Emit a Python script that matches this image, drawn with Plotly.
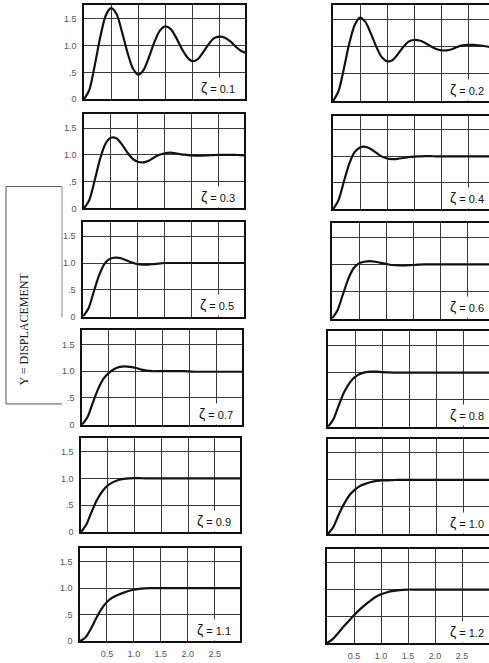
import plotly.graph_objects as go

W, H = 489, 663

# ---------------- data ----------------
T = [0.0, 0.1, 0.2, 0.3, 0.4, 0.5, 0.6, 0.7, 0.8, 0.9, 1.0, 1.1, 1.2, 1.3, 1.4, 1.5,
     1.6, 1.7, 1.8, 1.9, 2.0, 2.1, 2.2, 2.3, 2.4, 2.5, 2.6, 2.7, 2.8, 2.9, 3.0]

ZETA_LABELS = ["0.1", "0.2", "0.3", "0.4", "0.5", "0.6", "0.7", "0.8", "0.9", "1.0", "1.1", "1.2"]

z01 = [0, 0.18, 0.64, 1.16, 1.56, 1.70, 1.59, 1.26, 0.88, 0.58, 0.46, 0.55, 0.79, 1.07, 1.28, 1.36,
       1.31, 1.15, 0.95, 0.79, 0.71, 0.75, 0.88, 1.03, 1.14, 1.17, 1.15, 1.08, 0.98, 0.90, 0.86]
z02 = [0, 0.18, 0.59, 1.05, 1.39, 1.53, 1.45, 1.24, 1.00, 0.81, 0.73, 0.75, 0.86, 0.99, 1.09, 1.12,
       1.11, 1.07, 1.01, 0.96, 0.93, 0.93, 0.95, 0.99, 1.02, 1.03, 1.03, 1.02, 1.01, 0.99, 0.98]
z03 = [0, 0.16, 0.53, 0.93, 1.21, 1.32, 1.31, 1.20, 1.05, 0.93, 0.87, 0.86, 0.89, 0.95, 1.00, 1.03,
       1.04, 1.03, 1.01, 1.00, 0.99, 0.985, 0.985, 0.99, 0.995, 1.0, 1.0, 1.0, 1.0, 0.995, 0.99]
z04 = [0, 0.17, 0.52, 0.86, 1.08, 1.17, 1.18, 1.14, 1.07, 1.00, 0.96, 0.95, 0.955, 0.97, 0.985, 0.995,
       1.0, 1.005, 1.005, 1.0, 1.0, 1.0, 1.0, 1.0, 1.0, 1.0, 1.0, 1.0, 1.0, 1.0, 1.0]
z05 = [0, 0.15, 0.47, 0.78, 0.99, 1.08, 1.10, 1.09, 1.05, 1.01, 0.98, 0.97, 0.97, 0.98, 0.99, 1.0,
       1.0, 1.0, 1.0, 1.0, 1.0, 1.0, 1.0, 1.0, 1.0, 1.0, 1.0, 1.0, 1.0, 1.0, 1.0]
z06 = [0, 0.15, 0.44, 0.73, 0.93, 1.02, 1.05, 1.06, 1.05, 1.03, 1.01, 0.99, 0.985, 0.98, 0.985, 0.99,
       0.995, 1.0, 1.0, 1.0, 1.0, 1.0, 1.0, 1.0, 1.0, 1.0, 1.0, 1.0, 1.0, 1.0, 1.0]
z07 = [0, 0.14, 0.41, 0.67, 0.86, 0.97, 1.04, 1.08, 1.09, 1.08, 1.06, 1.03, 1.01, 1.0, 1.0, 1.0,
       1.0, 1.0, 1.0, 1.0, 0.995, 0.99, 0.99, 0.99, 0.99, 0.99, 0.99, 0.99, 0.99, 0.99, 0.99]
z08 = [0, 0.14, 0.40, 0.64, 0.81, 0.92, 0.98, 1.01, 1.02, 1.02, 1.01, 1.005, 1.0, 1.0, 1.0, 1.0,
       1.0, 1.0, 1.0, 1.0, 1.0, 1.0, 1.0, 1.0, 1.0, 1.0, 1.0, 1.0, 1.0, 1.0, 1.0]
z09 = [0, 0.14, 0.38, 0.60, 0.76, 0.87, 0.93, 0.97, 0.99, 1.0, 1.005, 1.005, 1.0, 1.0, 1.0, 1.0,
       1.0, 1.0, 1.0, 1.0, 1.0, 1.0, 1.0, 1.0, 1.0, 1.0, 1.0, 1.0, 1.0, 1.0, 1.0]
z10 = [0, 0.13, 0.36, 0.56, 0.72, 0.82, 0.89, 0.93, 0.96, 0.98, 0.99, 0.99, 0.995, 1.0, 1.0, 1.0,
       1.0, 1.0, 1.0, 1.0, 1.0, 1.0, 1.0, 1.0, 1.0, 1.0, 1.0, 1.0, 1.0, 1.0, 1.0]
z11 = [0, 0.07, 0.23, 0.43, 0.61, 0.74, 0.82, 0.87, 0.91, 0.945, 0.97, 0.985, 0.995, 1.0, 1.0, 1.0,
       1.0, 1.0, 1.0, 1.0, 1.0, 1.0, 1.0, 1.0, 1.0, 1.0, 1.0, 1.0, 1.0, 1.0, 1.0]
z12 = [0, 0.07, 0.18, 0.30, 0.41, 0.52, 0.62, 0.71, 0.79, 0.86, 0.91, 0.945, 0.97, 0.985, 0.995, 1.0,
       1.0, 1.0, 1.0, 1.0, 1.0, 1.0, 1.0, 1.0, 1.0, 1.0, 1.0, 1.0, 1.0, 1.0, 1.0]

SERIES = [z01, z02, z03, z04, z05, z06, z07, z08, z09, z10, z11, z12]

X_TICKS = [0.5, 1.0, 1.5, 2.0, 2.5]
X_TICK_TEXT = ["0.5", "1.0", "1.5", "2.0", "2.5"]
Y_TICKS = [0, 0.5, 1.0, 1.5]
Y_TICK_TEXT = ["0", ".5", "1.0", "1.5"]

# ---------------- layout geometry (pixels) ----------------
LEFT_BOXES = [(84, 245, 5, 100), (84, 244, 115, 210), (83, 244, 224, 319),
              (82, 242, 333, 428), (81, 240, 441, 536), (80, 240, 552, 646)]
RIGHT_BOXES = [(333, 5, 102), (333, 117, 211), (332, 225, 321),
               (328, 334, 430), (328, 442, 538), (327, 553, 648)]
X_MAX = 2.97
Y_MAX = 1.76
PPU_RIGHT = 54.0

GRID = "#3a3a3a"
FRAME = "#111111"
TICKFONT = dict(family="Liberation Sans, Arial, sans-serif", size=9, color="#555555")

fig = go.Figure()
layout = {}
annotations = []

for i, ys in enumerate(SERIES):
    r, c = i // 2, i % 2
    n = i + 1
    xa = "x" if n == 1 else f"x{n}"
    ya = "y" if n == 1 else f"y{n}"
    if c == 0:
        x0, x1, top, bot = LEFT_BOXES[r]
        xr = [0, X_MAX]
        xdom = [x0 / W, x1 / W]
    else:
        x0, top, bot = RIGHT_BOXES[r]
        xr = [0, (W - x0) / PPU_RIGHT]
        xdom = [x0 / W, 1.0]
    ydom = [1 - bot / H, 1 - top / H]

    fig.add_trace(go.Scatter(
        x=T, y=ys, xaxis=xa, yaxis=ya, mode="lines",
        line=dict(color="#111111", width=2.2, shape="spline", smoothing=0.8),
        hoverinfo="skip", showlegend=False))

    layout["xaxis" if n == 1 else f"xaxis{n}"] = dict(
        domain=xdom, range=xr, anchor=ya,
        tickvals=X_TICKS, ticktext=X_TICK_TEXT, showticklabels=(r == 5),
        ticks="", ticklen=0, ticklabelstandoff=3, tickfont=TICKFONT,
        showgrid=True, gridcolor=GRID, gridwidth=1, zeroline=False,
        showline=True, linecolor=FRAME, linewidth=1.5, mirror=True,
        fixedrange=True)
    layout["yaxis" if n == 1 else f"yaxis{n}"] = dict(
        domain=ydom, range=[0, Y_MAX], anchor=xa,
        tickvals=Y_TICKS, ticktext=Y_TICK_TEXT, showticklabels=(c == 0),
        ticks="", ticklen=0, ticklabelstandoff=4, tickfont=TICKFONT,
        showgrid=True, gridcolor=GRID, gridwidth=1, zeroline=False,
        showline=True, linecolor=FRAME, linewidth=1.5, mirror=(c == 0),
        fixedrange=True)

    annotations.append(dict(
        xref=xa, yref=ya, x=(xr[1] - 0.12) if c == 0 else (xr[1] - 0.04), y=0.21,
        xanchor="right", yanchor="middle", showarrow=False,
        text=f"<span style='font-size:14px'>ζ</span> = {ZETA_LABELS[i]}",
        font=dict(family="Liberation Sans, Arial, sans-serif", size=11, color="#111111"),
        bgcolor="white", borderpad=2))

# y-axis title box
annotations.append(dict(
    xref="paper", yref="paper", x=24 / W, y=1 - 332 / H,
    xanchor="center", yanchor="middle", showarrow=False, textangle=-90,
    text="Y = DISPLACEMENT",
    font=dict(family="Liberation Serif, Times New Roman, serif", size=12, color="#222222")))

box_l, box_r, box_t, box_b, box_rb = 6, 62, 188, 407, 320
shapes = [
    dict(type="line", xref="paper", yref="paper", x0=box_l / W, x1=box_l / W,
         y0=1 - box_t / H, y1=1 - box_b / H, line=dict(color="#555555", width=1)),
    dict(type="line", xref="paper", yref="paper", x0=box_l / W, x1=box_r / W,
         y0=1 - box_t / H, y1=1 - box_t / H, line=dict(color="#555555", width=1)),
    dict(type="line", xref="paper", yref="paper", x0=box_l / W, x1=box_r / W,
         y0=1 - box_b / H, y1=1 - box_b / H, line=dict(color="#555555", width=1)),
    dict(type="line", xref="paper", yref="paper", x0=box_r / W, x1=box_r / W,
         y0=1 - box_t / H, y1=1 - box_rb / H, line=dict(color="#888888", width=1)),
]

fig.update_layout(
    width=W, height=H, margin=dict(l=0, r=0, t=0, b=0),
    paper_bgcolor="white", plot_bgcolor="white",
    annotations=annotations, shapes=shapes, **layout)

fig.write_html("out.html", config={"displayModeBar": False},
               post_script="document.body.style.margin='0';document.body.style.overflow='hidden';")
